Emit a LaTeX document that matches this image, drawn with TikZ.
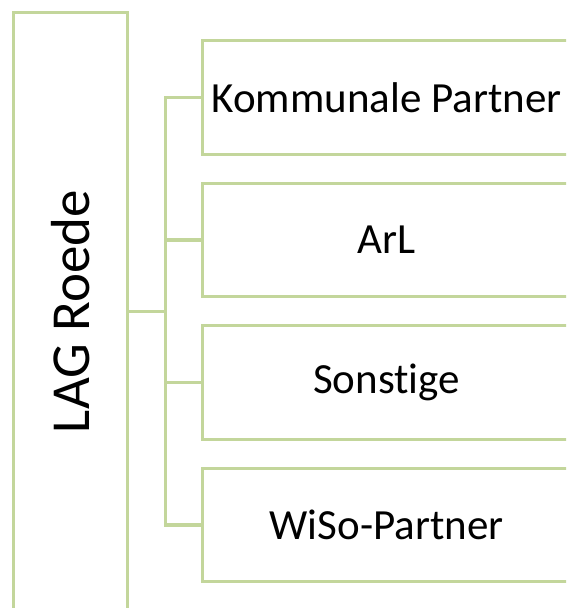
\documentclass[tikz,border=0pt]{standalone}
\usepackage{fontspec}
\setmainfont{Carlito}[Ligatures={NoCommon}]
\usetikzlibrary{positioning}
\definecolor{lagreen}{RGB}{195,214,155}
\tikzset{gbox/.style={draw=lagreen, line width=3.3pt, outer sep=0pt, inner sep=0pt}}
\tikzset{member/.style={gbox, minimum width=368pt, minimum height=113.5pt, font=\fontsize{43}{50}\selectfont}}
\tikzset{conn/.style={draw=lagreen, line width=3.3pt}}

\begin{document}
\begin{tikzpicture}[x=1pt,y=1pt]
		\useasboundingbox (0,0) rectangle (566,-608);
		\clip (0,0) rectangle (566,-608);
		
		\node[gbox, minimum width=114.4pt, minimum height=598pt] (LAG) at (70.5,-311.5){};
		\node[rotate=90, font=\fontsize{55}{62}\selectfont] (LAGtxt) at (LAG.center){LAG Roede};
		
		\node[member] (K1) at (386.5,-97.5){Kommunale Partner};
		\node[member, below=29pt of K1] (K2){ArL};
		\node[member, below=29pt of K2] (K3){Sonstige};
		\node[member, below=29pt of K3] (K4){WiSo-Partner};
		
		\coordinate[right=38pt of LAG.east] (J);
		\draw[conn] (LAG.east) -- (J);
		\draw[conn] (J) |- (K1.west);
		\draw[conn] (J) |- (K2.west);
		\draw[conn] (J) |- (K3.west);
		\draw[conn] (J) |- (K4.west);
	\end{tikzpicture}
\end{document}
